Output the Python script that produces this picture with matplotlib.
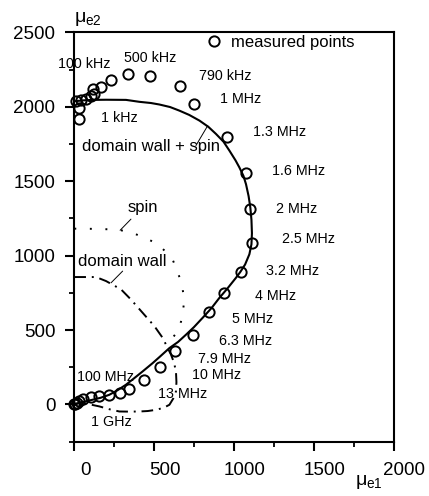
import matplotlib
matplotlib.use("Agg")
import matplotlib.pyplot as plt
import matplotlib.transforms as mtransforms
from matplotlib.ticker import MultipleLocator

plt.rcParams['font.family'] = ['Liberation Sans', 'DejaVu Sans']
plt.rcParams['mathtext.fontset'] = 'custom'
plt.rcParams['mathtext.rm'] = 'Liberation Sans'
plt.rcParams['mathtext.it'] = 'Liberation Sans'

# measured points (mu_e1, mu_e2)
meas_x = [27, 27, 10, 42, 73, 104, 121, 115, 167, 230, 334, 476, 662, 752,
          957, 1076, 1103, 1112, 1045, 940, 842, 746, 633, 538, 435, 345,
          288, 219, 157, 104, 56, 30, 15, 5, 0]
meas_y = [1918, 1990, 2037, 2046, 2053, 2069, 2087, 2116, 2132, 2181, 2217,
          2206, 2136, 2020, 1795, 1554, 1312, 1085, 892, 746, 620, 470, 359,
          252, 166, 103, 74, 63, 54, 47, 36, 22, 12, 5, 0]

# fitted total curve: domain wall + spin
total_x = [0, 60, 115, 200, 324, 408, 480, 533, 600, 658, 720, 784, 840, 888,
           935, 972, 1010, 1034, 1060, 1076, 1092, 1103, 1110, 1113, 1110,
           1097, 1070, 1040, 1013, 960, 909, 860, 804, 750, 700, 650, 596,
           533, 491, 428, 370, 324, 270, 219, 165, 115, 60, 10, 0]
total_y = [2037, 2043, 2046, 2047, 2046, 2033, 2025, 2015, 1998, 1974, 1945,
           1907, 1865, 1817, 1765, 1705, 1640, 1593, 1535, 1479, 1400, 1323,
           1240, 1150, 1076, 1009, 940, 890, 851, 780, 716, 648, 582, 520,
           469, 420, 379, 318, 278, 222, 172, 133, 95, 65, 45, 32, 18, 6, 0]

# spin component
spin_x = [0, 100, 209, 293, 370, 439, 490, 533, 580, 616, 648, 669, 690,
          679, 669, 648, 606, 575]
spin_y = [1181, 1180, 1177, 1170, 1150, 1121, 1095, 1065, 1020, 975, 883,
          832, 704, 614, 558, 491, 435, 402]

# domain wall component
dw_x = [0, 136, 199, 293, 355, 428, 502, 554, 580, 606, 625, 637, 640, 637,
        620, 596, 560, 512, 460, 408, 345, 282, 220, 157, 100, 52, 20, 0]
dw_y = [856, 856, 829, 773, 705, 616, 526, 447, 390, 335, 280, 222, 150, 88,
        40, -2, -22, -36, -44, -47, -48, -47, -32, -13, 0, 9, 5, 0]

freq_labels = ["1 kHz", "100 kHz", "500 kHz", "790 kHz", "1 MHz", "1.3 MHz",
               "1.6 MHz", "2 MHz", "2.5 MHz", "3.2 MHz", "4 MHz", "5 MHz",
               "6.3 MHz", "7.9 MHz", "10 MHz", "13 MHz", "100 MHz", "1 GHz"]
freq_lx = [282, 61, 474, 944, 1045, 1289, 1408, 1396, 1465, 1365, 1258, 1114,
           1070, 944, 894, 681, 198, 230]
freq_ly = [1925, 2285, 2325, 2204, 2055, 1833, 1570, 1314, 1112, 897, 728,
           575, 427, 303, 196, 68, 184, -119]

fig = plt.figure(figsize=(4.29, 4.96), dpi=100)
ax = fig.add_axes([74.3 / 429, 1 - 441.7 / 496, 319.2 / 429, 409.4 / 496])

ax.plot(total_x, total_y, color='black', lw=1.5, clip_on=False, zorder=3)
ax.plot(spin_x, spin_y, color='black', lw=1.4, ls=(0, (1, 7)), clip_on=False,
        zorder=2)
ax.plot(dw_x, dw_y, color='black', lw=1.4, ls=(0, (6, 3, 1, 3)),
        clip_on=False, zorder=2)
ax.plot(meas_x, meas_y, ls='none', marker='o', ms=7.4, mfc='none',
        mec='black', mew=1.4, clip_on=False, zorder=4,
        label='measured points')

ax.set_xlim(0, 2000)
ax.set_ylim(-250, 2500)
ax.xaxis.set_major_locator(MultipleLocator(500))
ax.xaxis.set_minor_locator(MultipleLocator(250))
ax.yaxis.set_major_locator(MultipleLocator(500))
ax.yaxis.set_minor_locator(MultipleLocator(250))
ax.tick_params(which='major', direction='out', length=6.7, width=1.5,
               labelsize=13.5)
ax.tick_params(which='minor', direction='out', length=3.5, width=1.3)
ax.tick_params(axis='y', which='major', pad=7)
ax.tick_params(axis='x', which='major', pad=8)
for sp in ax.spines.values():
    sp.set_linewidth(1.5)

offset = mtransforms.ScaledTranslation(11 / 100, 0, fig.dpi_scale_trans)
for lab in ax.get_xticklabels():
    lab.set_transform(lab.get_transform() + offset)

for t, x, y in zip(freq_labels, freq_lx, freq_ly):
    ax.text(x, y, t, fontsize=10.3, ha='center', va='center', zorder=5)

ax.text(49, 1730, "domain wall + spin", fontsize=12, ha='left', va='center')
ax.text(429, 1320, "spin", fontsize=12, ha='center', va='center')
ax.text(23, 960, "domain wall", fontsize=12, ha='left', va='center')

lead = dict(arrowstyle='-', color='black', lw=0.7, shrinkA=0, shrinkB=0)
ax.annotate("", xy=(836, 1873), xytext=(762, 1739), arrowprops=lead)
ax.annotate("", xy=(355, 1245), xytext=(287, 1170), arrowprops=lead)
ax.annotate("", xy=(303, 896), xytext=(230, 817), arrowprops=lead)

ax.legend(loc='center left', bbox_to_anchor=(0.411, 0.976), frameon=False,
          fontsize=12, handlelength=1.0, handletextpad=0.55, borderpad=0,
          borderaxespad=0, numpoints=1)

ax.annotate(r"$\mu_{\mathrm{e2}}$", xy=(0, 1), xycoords='axes fraction',
            xytext=(0, 3), textcoords='offset points', ha='left',
            va='bottom', fontsize=14)
ax.annotate(r"$\mu_{\mathrm{e1}}$", xy=(1, 0), xycoords='axes fraction',
            xytext=(-7.5, -29), textcoords='offset points', ha='right',
            va='center', fontsize=14)

fig.savefig("out.png", dpi=100)
